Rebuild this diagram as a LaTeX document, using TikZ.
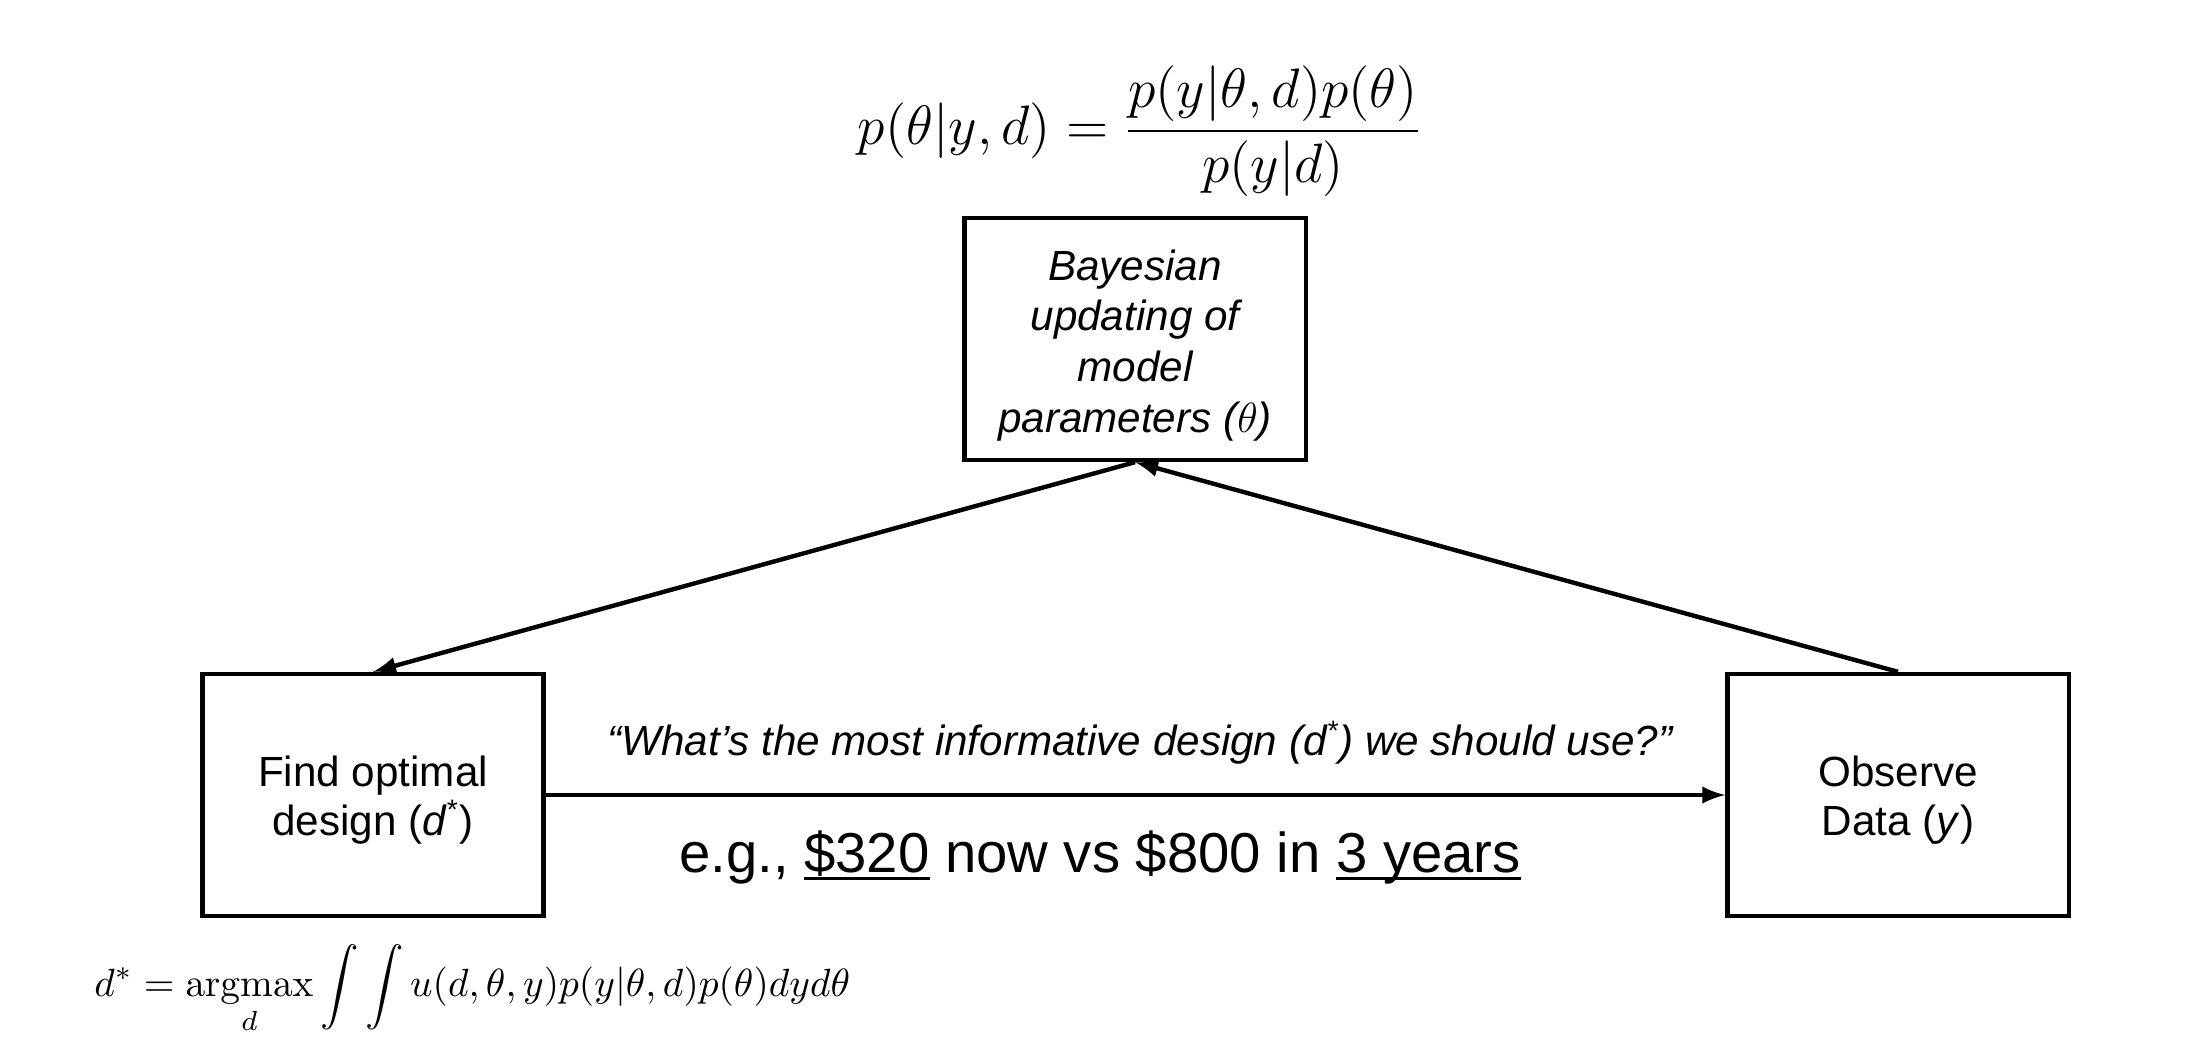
\RequirePackage{fix-cm}
\documentclass[tikz,border=0pt]{standalone}
\usepackage{amsmath}
\usepackage[no-math]{fontspec}
\setmainfont{Liberation Sans}
\usetikzlibrary{arrows}
\newcommand\undl[1]{\setbox0\hbox{#1}\rlap{\rule[-0.15em]{\wd0}{0.06em}}\box0\relax}

\begin{document}
\begin{tikzpicture}[x=0.01cm,y=-0.01cm,
  block/.style={draw,line width=1.2pt,minimum width=3.41cm,minimum height=2.42cm,align=center,font=\fontsize{12}{13.7}\selectfont},
  link/.style={line width=1.25pt,-latex}]

\useasboundingbox (0,0) rectangle (2206,1063);

\node (bayes) at (1140,131) {\fontsize{15.8}{19}\selectfont $\displaystyle p(\theta|y,d) = \frac{p(y|\theta,d)p(\theta)}{p(y|d)}$};

\node[block,font=\fontsize{12}{14.4}\selectfont] (update) at (1135,339) {\rule{0pt}{12.3pt}\itshape Bayesian\\ \itshape updating of\\ \itshape model\\ \itshape parameters ($\theta$)};
\node[block] (design) at (373,795) {\rule{0pt}{11.6pt}Find optimal\\ design (\textit{d}\textsuperscript{*})};
\node[block] (observe) at (1898,795) {\rule{0pt}{11.6pt}Observe\\ Data (\textit{y})};

\draw [link] (update.south) -- (design.north);
\draw [link] (observe.north) -- (update.south);
\draw [link] (design.east) -- (observe.west);

\node (question) at (1140,743) {\fontsize{12}{14}\selectfont \itshape “What’s the most informative design (d\textsuperscript{*}) we should use?”};
\node (example) at (1100,857) {\fontsize{16}{19}\selectfont e.g., \undl{\$320} now vs \$800 in \undl{3 years}};

\node[anchor=west] (utility) at (82,989) {\fontsize{11.2}{14}\selectfont $\displaystyle d^* = \operatorname*{argmax}_d \int\int u(d,\theta,y)p(y|\theta,d)p(\theta)dyd\theta$};

\end{tikzpicture}
\end{document}
